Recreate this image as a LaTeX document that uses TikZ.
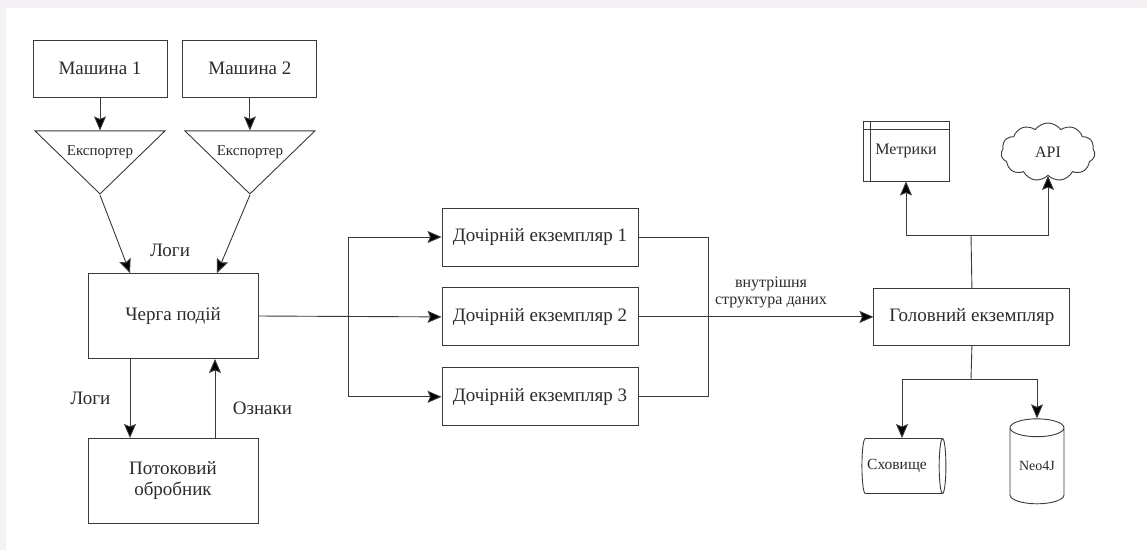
\documentclass[tikz,border=0pt]{standalone}
\usepackage{fontspec}
\setmainfont{Liberation Serif}
\usetikzlibrary{arrows.meta,positioning,shapes.geometric,shapes.symbols}
\definecolor{ink}{HTML}{2B2B2B}
\definecolor{wire}{HTML}{3A3A3A}
\definecolor{frame}{HTML}{F5F1F5}
\newcommand{\fs}[1]{\rmfamily\fontsize{#1}{#1}\selectfont}
\tikzset{
  flow/.style={-{Stealth[length=14pt, width=12pt, inset=2.5pt, fill=black]}, line width=0.9pt, draw=wire},
  wirepath/.style={line width=0.9pt, draw=wire},
  box/.style={
    draw=wire,
    line width=0.9pt,
    fill=white,
    inner sep=0pt,
    align=center,
    text=ink,
    font=\fs{19}
  },
  machine/.style={box, minimum width=134pt, minimum height=57pt},
  stage/.style={box, minimum width=170pt, minimum height=85pt},
  worker/.style={box, minimum width=196pt, minimum height=58pt},
  exporter/.style={
    draw=wire,
    line width=0.9pt,
    isosceles triangle,
    shape border rotate=270,
    isosceles triangle stretches,
    minimum width=130pt,
    minimum height=63pt,
    inner sep=0pt
  },
  tag/.style={text=ink, font=\fs{19}}
}

\begin{document}
\begin{tikzpicture}[x=1pt, y=-1pt]
  % canvas
  \fill[white] (0,0) rectangle (1147,550);
  \fill[frame] (0,0) rectangle (1147,8);
  \fill[frame] (0,0) rectangle (6,550);

  % sources
  \node[machine] (m1) at (100,68.5) {Машина 1};
  \node[machine, right=15pt of m1] (m2) {Машина 2};
  \node[exporter, below=33pt of m1,
    label={[text=ink, font=\fs{15}, yshift=5pt]center:Експортер}] (exp1) {};
  \node[exporter, below=33pt of m2,
    label={[text=ink, font=\fs{15}, yshift=5pt]center:Експортер}] (exp2) {};

  \node[stage] (queue) at (173,316) {Черга подій};
  \node[stage, below=79pt of queue] (proc) {Потоковий\\[2pt]обробник};

  \draw[flow] (m1) -- (exp1);
  \draw[flow] (m2) -- (exp2);
  \draw[flow] (exp1.apex) -- ([xshift=-43pt]queue.north);
  \draw[flow] (exp2.apex) -- ([xshift=44pt]queue.north);
  \node[tag] (logsin) at (170,250) {Логи};

  \draw[flow] ([xshift=-43pt]queue.south) -- ([xshift=-43pt]proc.north)
    node[tag, midway, left=16pt] (logsout) {Логи};
  \draw[flow] ([xshift=42pt]proc.north) -- ([xshift=42pt]queue.south)
    node[tag, pos=0.38, right=14pt] (marks) {Ознаки};

  % child instances
  \node[worker] (c1) at (540,237) {Дочірній екземпляр 1};
  \node[worker, below=21pt of c1] (c2) {Дочірній екземпляр 2};
  \node[worker, below=21pt of c2] (c3) {Дочірній екземпляр 3};

  \coordinate (fork) at (348,316);
  \draw[flow] (queue.east) -- (c2.west);
  \draw[wirepath] (fork |- c1.west) -- (fork |- c3.west);
  \draw[flow] (fork |- c1.west) -- (c1.west);
  \draw[flow] (fork |- c3.west) -- (c3.west);

  % head instance
  \node[box, minimum width=196pt, minimum height=57pt, right=235pt of c2] (head) {Головний екземпляр};
  \coordinate (join) at (708,316);
  \draw[wirepath] (c1.east) -| (join);
  \draw[wirepath] (c3.east) -| (join);
  \draw[flow] (c2.east) -- (head.west);
  \node[text=ink, font=\fs{16}, align=center] (datalbl) at (771,292)
    {внутрішня\\[1pt]структура даних};

  % consumers
  \node[box, minimum width=86pt, minimum height=60pt, font=\fs{16}] (metrics) at (906,151) {Метрики};
  \draw[wirepath] ([xshift=8pt]metrics.north west) -- ([xshift=8pt]metrics.south west);
  \draw[wirepath] ([yshift=-9pt]metrics.north west) -- ([yshift=-9pt]metrics.north east);
  \node[cloud, draw=wire, line width=0.9pt, cloud puffs=11, cloud puff arc=110, aspect=1.6,
    minimum width=94pt, minimum height=58pt, inner sep=0pt, text=ink, font=\fs{16}] (api) at (1048,152) {API};

  \coordinate (up) at (971,235);
  \draw[wirepath] (head.north) -- (up);
  \draw[flow] (up) -| (metrics.south);
  \draw[flow] (up) -| (api.south);

  % storage
  \node[cylinder, draw=wire, line width=0.9pt, shape aspect=0.5,
    minimum width=55pt, minimum height=84pt, inner sep=0pt, text=ink, font=\fs{15.5}] (store) at (902,466) {\hspace*{-10pt}Сховище};
  \node[cylinder, shape border rotate=90, draw=wire, line width=0.9pt, shape aspect=0.5,
    minimum width=54pt, minimum height=85pt, inner sep=0pt, text=ink, font=\fs{14}] (neo) at (1037,466) {\raisebox{-10pt}{Neo4J}};

  \coordinate (down) at (971,379);
  \draw[wirepath] (head.south) -- (down);
  \draw[flow] (down) -| (store.north);
  \draw[flow] (down) -| (neo.north);
\end{tikzpicture}
\end{document}
